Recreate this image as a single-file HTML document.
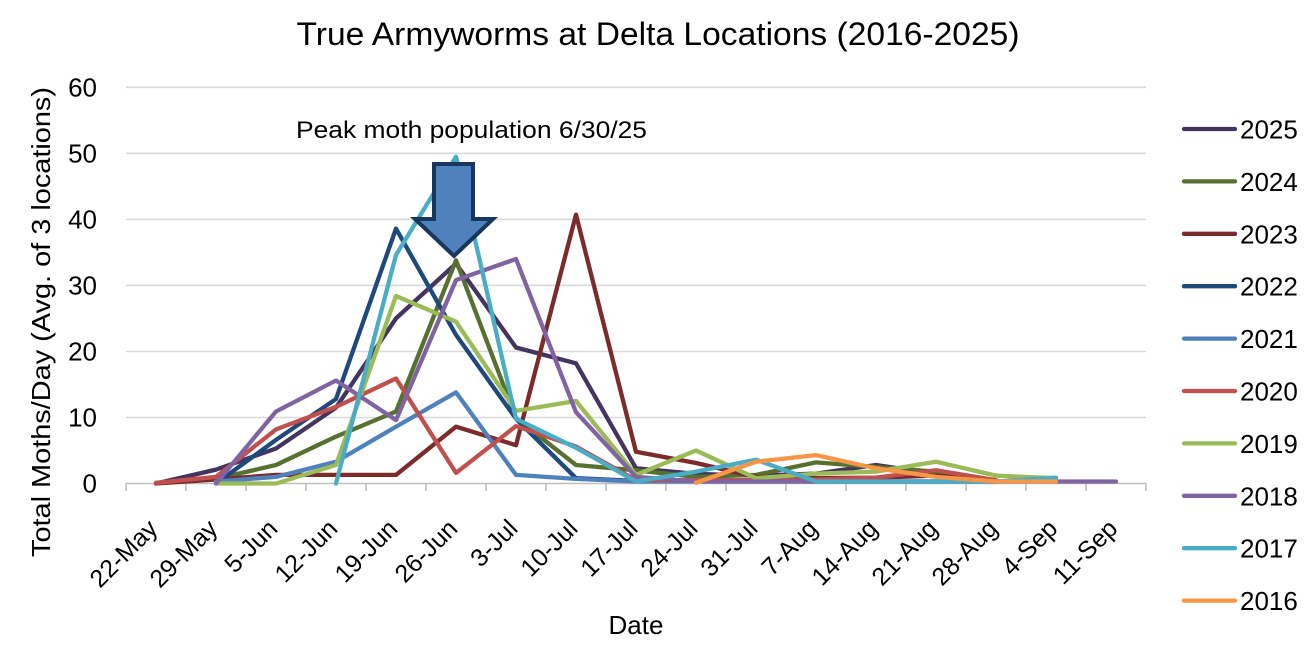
<!DOCTYPE html>
<html>
<head>
<meta charset="utf-8">
<style>
  html, body { margin: 0; padding: 0; background: #ffffff; }
  body { width: 1316px; height: 661px; overflow: hidden; }
  svg { display: block; }
  text { font-family: "Liberation Sans", Arial, sans-serif; fill: #000; }
</style>
</head>
<body>
<svg width="1316" height="661" viewBox="0 0 1316 661" xmlns="http://www.w3.org/2000/svg">
  <rect x="0" y="0" width="1316" height="661" fill="#ffffff"/>

  <!-- Title -->
  <text x="658" y="45" font-size="32" text-anchor="middle" textLength="723" lengthAdjust="spacingAndGlyphs">True Armyworms at Delta Locations (2016-2025)</text>

  <!-- Gridlines -->
  <g stroke="#D9D9D9" stroke-width="1.6">
    <line x1="126" y1="87.3" x2="1146" y2="87.3"/>
    <line x1="126" y1="153.3" x2="1146" y2="153.3"/>
    <line x1="126" y1="219.4" x2="1146" y2="219.4"/>
    <line x1="126" y1="285.4" x2="1146" y2="285.4"/>
    <line x1="126" y1="351.5" x2="1146" y2="351.5"/>
    <line x1="126" y1="417.5" x2="1146" y2="417.5"/>
  </g>
  <!-- X axis -->
  <g stroke="#BFBFBF" stroke-width="1.6">
    <line x1="126" y1="483.5" x2="1146" y2="483.5"/>
    <line x1="126" y1="483.5" x2="126" y2="491"/>
    <line x1="186" y1="483.5" x2="186" y2="491"/>
    <line x1="246" y1="483.5" x2="246" y2="491"/>
    <line x1="306" y1="483.5" x2="306" y2="491"/>
    <line x1="366" y1="483.5" x2="366" y2="491"/>
    <line x1="426" y1="483.5" x2="426" y2="491"/>
    <line x1="486" y1="483.5" x2="486" y2="491"/>
    <line x1="546" y1="483.5" x2="546" y2="491"/>
    <line x1="606" y1="483.5" x2="606" y2="491"/>
    <line x1="666" y1="483.5" x2="666" y2="491"/>
    <line x1="726" y1="483.5" x2="726" y2="491"/>
    <line x1="786" y1="483.5" x2="786" y2="491"/>
    <line x1="846" y1="483.5" x2="846" y2="491"/>
    <line x1="906" y1="483.5" x2="906" y2="491"/>
    <line x1="966" y1="483.5" x2="966" y2="491"/>
    <line x1="1026" y1="483.5" x2="1026" y2="491"/>
    <line x1="1086" y1="483.5" x2="1086" y2="491"/>
    <line x1="1146" y1="483.5" x2="1146" y2="491"/>
  </g>

  <!-- Y tick labels -->
  <g font-size="26" text-anchor="end">
    <text x="97" y="96.5">60</text>
    <text x="97" y="162.5">50</text>
    <text x="97" y="228.6">40</text>
    <text x="97" y="294.6">30</text>
    <text x="97" y="360.7">20</text>
    <text x="97" y="426.7">10</text>
    <text x="97" y="492.7">0</text>
  </g>

  <!-- Y axis title -->
  <text transform="translate(50,322) rotate(-90)" font-size="26" text-anchor="middle" textLength="470" lengthAdjust="spacingAndGlyphs">Total Moths/Day (Avg. of 3 locations)</text>

  <!-- X tick labels -->
  <g font-size="25" text-anchor="end">
    <text transform="translate(159,530) rotate(-45)">22-May</text>
    <text transform="translate(219,530) rotate(-45)">29-May</text>
    <text transform="translate(279,530) rotate(-45)">5-Jun</text>
    <text transform="translate(339,530) rotate(-45)">12-Jun</text>
    <text transform="translate(399,530) rotate(-45)">19-Jun</text>
    <text transform="translate(459,530) rotate(-45)">26-Jun</text>
    <text transform="translate(519,530) rotate(-45)">3-Jul</text>
    <text transform="translate(579,530) rotate(-45)">10-Jul</text>
    <text transform="translate(639,530) rotate(-45)">17-Jul</text>
    <text transform="translate(699,530) rotate(-45)">24-Jul</text>
    <text transform="translate(759,530) rotate(-45)">31-Jul</text>
    <text transform="translate(819,530) rotate(-45)">7-Aug</text>
    <text transform="translate(879,530) rotate(-45)">14-Aug</text>
    <text transform="translate(939,530) rotate(-45)">21-Aug</text>
    <text transform="translate(999,530) rotate(-45)">28-Aug</text>
    <text transform="translate(1059,530) rotate(-45)">4-Sep</text>
    <text transform="translate(1119,530) rotate(-45)">11-Sep</text>
  </g>

  <!-- X axis title -->
  <text x="636" y="634" font-size="26" text-anchor="middle">Date</text>

  <!-- Series -->
  <g fill="none" stroke-width="4.3" stroke-linejoin="round" stroke-linecap="round">
    <!-- 2025 -->
    <polyline stroke="#433560" points="156,483.5 216,469.6 276,448.5 336,407.6 396,318.4 456,263.6 516,347.5 576,363.3 636,468.3 696,473.9 756,475.6 816,473.6 876,465.0 936,473.9 996,480.2"/>
    <!-- 2024 -->
    <polyline stroke="#577030" points="216,478.9 276,465.0 336,436.6 396,411.5 456,260.3 516,418.1 576,465.0 636,470.3 696,476.9 756,474.9 816,462.4 876,467.0 936,471.6 996,480.2"/>
    <!-- 2023 -->
    <polyline stroke="#7B2B29" points="156,483.5 216,479.5 276,474.9 336,474.9 396,474.9 456,426.7 516,445.2 576,214.7 636,451.8 696,463.0 756,476.9 816,478.2 876,477.6 936,475.6 996,480.2"/>
    <!-- 2022 -->
    <polyline stroke="#1F497D" points="216,483.5 276,439.9 336,399.0 396,228.6 456,334.9 516,418.8 576,478.2 636,480.9 696,480.9 756,480.9 816,481.5 876,481.5 936,481.5 996,481.5"/>
    <!-- 2021 -->
    <polyline stroke="#4F81BD" points="216,481.5 276,476.9 336,461.7 396,426.7 456,392.4 516,474.9 576,478.9 636,481.5 696,481.5 756,481.5 816,481.5 876,481.5 936,481.5 996,481.5 1056,481.5"/>
    <!-- 2020 -->
    <polyline stroke="#C0504D" points="156,482.8 216,476.9 276,429.4 336,406.9 396,378.5 456,472.9 516,426.1 576,446.5 636,480.2 696,480.2 756,480.2 816,479.5 876,477.6 936,470.3 996,480.2"/>
    <!-- 2019 -->
    <polyline stroke="#9BBB59" points="216,483.5 276,483.5 336,465.0 396,296.0 456,321.7 516,410.9 576,401.0 636,474.9 696,450.5 756,478.2 816,473.6 876,471.6 936,461.7 996,475.6 1056,478.2"/>
    <!-- 2018 -->
    <polyline stroke="#8064A2" points="216,483.5 276,411.5 336,380.5 396,420.1 456,280.1 516,259.0 576,412.2 636,476.9 696,481.5 756,481.5 816,481.5 876,481.5 936,481.5 996,481.5 1056,481.5 1116,481.5"/>
    <!-- 2017 -->
    <polyline stroke="#4BACC6" points="336,483.5 396,255.0 456,156.7 516,418.8 576,447.8 636,481.5 696,471.6 756,459.7 816,481.5 876,481.5 936,481.5 996,481.5 1056,477.6"/>
    <!-- 2016 -->
    <polyline stroke="#F79646" points="696,482.8 756,461.7 816,455.1 876,468.3 936,476.9 996,481.5 1056,481.5"/>
  </g>

  <!-- Annotation -->
  <text x="296" y="138" font-size="24" textLength="351" lengthAdjust="spacingAndGlyphs">Peak moth population 6/30/25</text>
  <path d="M434,164 L473,164 L473,219 L493,219 L454,256 L415,219 L434,219 Z" fill="#4F81BD" stroke="#17375E" stroke-width="4" stroke-linejoin="miter"/>

  <!-- Legend -->
  <g stroke-width="4.3" stroke-linecap="round">
    <line x1="1184" y1="129" x2="1235" y2="129" stroke="#433560"/>
    <line x1="1184" y1="181.4" x2="1235" y2="181.4" stroke="#577030"/>
    <line x1="1184" y1="233.8" x2="1235" y2="233.8" stroke="#7B2B29"/>
    <line x1="1184" y1="286.2" x2="1235" y2="286.2" stroke="#1F497D"/>
    <line x1="1184" y1="338.6" x2="1235" y2="338.6" stroke="#4F81BD"/>
    <line x1="1184" y1="391" x2="1235" y2="391" stroke="#C0504D"/>
    <line x1="1184" y1="443.4" x2="1235" y2="443.4" stroke="#9BBB59"/>
    <line x1="1184" y1="495.8" x2="1235" y2="495.8" stroke="#8064A2"/>
    <line x1="1184" y1="548.2" x2="1235" y2="548.2" stroke="#4BACC6"/>
    <line x1="1184" y1="600.6" x2="1235" y2="600.6" stroke="#F79646"/>
  </g>
  <g font-size="26">
    <text x="1240" y="138.5">2025</text>
    <text x="1240" y="190.9">2024</text>
    <text x="1240" y="243.3">2023</text>
    <text x="1240" y="295.7">2022</text>
    <text x="1240" y="348.1">2021</text>
    <text x="1240" y="400.5">2020</text>
    <text x="1240" y="452.9">2019</text>
    <text x="1240" y="505.3">2018</text>
    <text x="1240" y="557.7">2017</text>
    <text x="1240" y="610.1">2016</text>
  </g>
</svg>
</body>
</html>
